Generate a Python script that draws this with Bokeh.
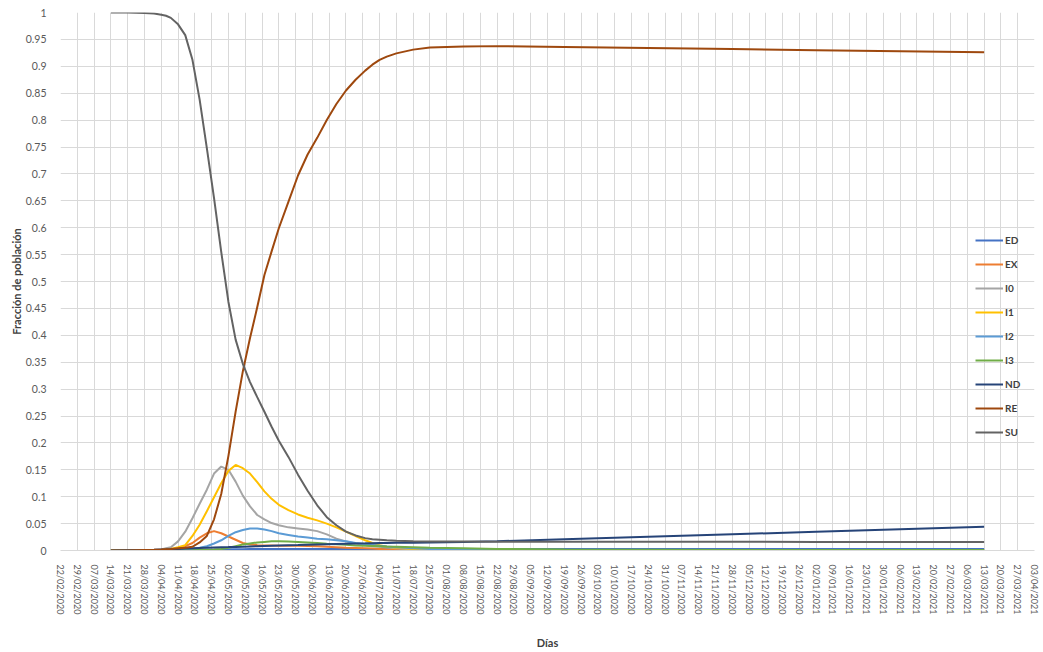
import math
import pandas as pd
from bokeh.plotting import figure
from bokeh.models import (FixedTicker, DatetimeTickFormatter, CustomJSTickFormatter,
                          Legend, LegendItem, Range1d)
from bokeh.embed import file_html
from bokeh.resources import INLINE

# ---------------- data ----------------
dates = ["2020-03-14", "2020-03-21", "2020-03-28", "2020-04-01", "2020-04-04", "2020-04-06",
         "2020-04-08", "2020-04-11", "2020-04-14", "2020-04-17", "2020-04-20", "2020-04-23",
         "2020-04-26", "2020-04-29", "2020-05-02", "2020-05-05", "2020-05-08", "2020-05-11",
         "2020-05-14", "2020-05-17", "2020-05-20", "2020-05-23", "2020-05-27", "2020-05-31",
         "2020-06-04", "2020-06-08", "2020-06-12", "2020-06-16", "2020-06-20", "2020-06-24",
         "2020-06-28", "2020-07-01", "2020-07-04", "2020-07-07", "2020-07-11", "2020-07-18",
         "2020-07-25", "2020-08-01", "2020-08-08", "2020-08-22", "2020-09-19", "2020-10-24",
         "2020-11-28", "2021-01-02", "2021-02-06", "2021-03-13"]

ED = [0.0, 0.0, 0.0, 0.0, 0.0, 0.0, 0.0, 0.0002, 0.0004, 0.0006, 0.001, 0.0013, 0.0016, 0.002,
      0.0022, 0.0024, 0.0025, 0.0026, 0.0027, 0.0028, 0.0028, 0.0029, 0.003, 0.003, 0.003,
      0.003, 0.003, 0.003, 0.003, 0.003, 0.003, 0.003, 0.003, 0.003, 0.003, 0.003, 0.003, 0.003,
      0.003, 0.003, 0.003, 0.003, 0.003, 0.003, 0.003, 0.003]
EX = [0.0, 0.0, 0.0, 0.0005, 0.001, 0.0015, 0.002, 0.004, 0.008, 0.014, 0.024, 0.032, 0.036,
      0.032, 0.026, 0.020, 0.014, 0.011, 0.010, 0.0095, 0.0095, 0.009, 0.009, 0.0088, 0.0085,
      0.008, 0.007, 0.006, 0.005, 0.0045, 0.004, 0.0035, 0.003, 0.0025, 0.002, 0.0015, 0.001,
      0.0008, 0.0005, 0.0003, 0.0002, 0.0001, 0.0, 0.0, 0.0, 0.0]
I0 = [0.0, 0.0, 0.0, 0.001, 0.002, 0.004, 0.006, 0.017, 0.035, 0.060, 0.087, 0.113, 0.143,
      0.156, 0.150, 0.128, 0.102, 0.082, 0.066, 0.058, 0.051, 0.047, 0.043, 0.041, 0.039, 0.036,
      0.030, 0.022, 0.017, 0.013, 0.010, 0.008, 0.007, 0.0055, 0.004, 0.002, 0.001, 0.0007,
      0.0005, 0.0003, 0.0002, 0.0001, 0.0001, 0.0, 0.0, 0.0]
I1 = [0.0, 0.0, 0.0, 0.0005, 0.001, 0.002, 0.003, 0.006, 0.010, 0.027, 0.048, 0.073, 0.099,
      0.125, 0.148, 0.159, 0.153, 0.143, 0.127, 0.110, 0.096, 0.085, 0.075, 0.067, 0.061, 0.056,
      0.050, 0.043, 0.035, 0.027, 0.019, 0.014, 0.010, 0.007, 0.005, 0.003, 0.002, 0.0015,
      0.001, 0.0005, 0.0002, 0.0001, 0.0, 0.0, 0.0, 0.0]
I2 = [0.0, 0.0, 0.0, 0.0, 0.0, 0.0005, 0.001, 0.001, 0.002, 0.003, 0.005, 0.008, 0.013, 0.019,
      0.027, 0.034, 0.038, 0.041, 0.041, 0.039, 0.036, 0.032, 0.029, 0.026, 0.024, 0.022, 0.021,
      0.019, 0.017, 0.014, 0.012, 0.010, 0.009, 0.0075, 0.006, 0.004, 0.003, 0.0025, 0.002,
      0.001, 0.001, 0.0005, 0.0003, 0.0002, 0.0001, 0.0001]
I3 = [0.0, 0.0, 0.0, 0.0, 0.0, 0.0, 0.0, 0.0, 0.0002, 0.0005, 0.001, 0.0015, 0.002, 0.003,
      0.005, 0.008, 0.011, 0.013, 0.015, 0.016, 0.017, 0.017, 0.0167, 0.016, 0.015, 0.0138,
      0.0125, 0.0115, 0.0105, 0.0095, 0.009, 0.0085, 0.008, 0.0075, 0.007, 0.006, 0.005, 0.0045,
      0.004, 0.003, 0.002, 0.0015, 0.001, 0.001, 0.001, 0.001]
ND = [0.0, 0.0005, 0.001, 0.0015, 0.002, 0.0022, 0.0025, 0.003, 0.0035, 0.004, 0.0045, 0.005,
      0.0055, 0.006, 0.0063, 0.0067, 0.007, 0.0075, 0.008, 0.0085, 0.009, 0.0093, 0.0097, 0.010,
      0.0105, 0.011, 0.0115, 0.012, 0.0125, 0.013, 0.0133, 0.0136, 0.0138, 0.014, 0.0142,
      0.0145, 0.0148, 0.0153, 0.0158, 0.0172, 0.0209, 0.0255, 0.0301, 0.0348, 0.0394, 0.044]
RE = [0.0, 0.0, 0.001, 0.0015, 0.002, 0.0025, 0.003, 0.004, 0.005, 0.007, 0.015, 0.027, 0.058,
      0.105, 0.176, 0.258, 0.333, 0.395, 0.452, 0.512, 0.556, 0.599, 0.648, 0.697, 0.736, 0.767,
      0.800, 0.830, 0.855, 0.875, 0.892, 0.903, 0.912, 0.918, 0.924, 0.931, 0.935, 0.936, 0.937,
      0.9375, 0.936, 0.934, 0.932, 0.930, 0.928, 0.926]
SU = [1.0, 1.0, 0.999, 0.998, 0.996, 0.994, 0.990, 0.978, 0.958, 0.912, 0.838, 0.748, 0.655,
      0.555, 0.462, 0.392, 0.347, 0.313, 0.285, 0.258, 0.230, 0.204, 0.174, 0.141, 0.111, 0.084,
      0.062, 0.047, 0.035, 0.028, 0.023, 0.021, 0.020, 0.019, 0.018, 0.017, 0.0168, 0.0166,
      0.0165, 0.0164, 0.0163, 0.0162, 0.0161, 0.016, 0.016, 0.016]

series_names = ["ED", "EX", "I0", "I1", "I2", "I3", "ND", "RE", "SU"]
series_values = [ED, EX, I0, I1, I2, I3, ND, RE, SU]
series_colors = ["#4472C4", "#ED7D31", "#A5A5A5", "#FFC000", "#5B9BD5", "#70AD47",
                 "#264478", "#9E480E", "#636363"]

x_start = "2020-02-22"
x_end = "2021-04-03"
y_ticks = [i / 20 for i in range(21)]

# ---------------- figure ----------------
x = pd.to_datetime(dates, format="%Y-%m-%d")
t0 = pd.Timestamp(x_start)
t1 = pd.Timestamp(x_end)
week_ticks = pd.date_range(t0, t1, freq="7D")
tick_ms = [int(t.value // 10**6) for t in week_ticks]

p = figure(width=1043, height=652, x_axis_type="datetime",
           x_range=Range1d(t0, t1), y_range=Range1d(0, 1),
           output_backend="svg", toolbar_location=None,
           min_border_left=60, min_border_right=9, min_border_top=12, min_border_bottom=102)
p.outline_line_color = None
p.background_fill_color = "white"

FONT = "Lato"
GRID = "#D9D9D9"
TXT = "#595959"

p.xgrid.grid_line_color = GRID
p.ygrid.grid_line_color = GRID

xa = p.xaxis[0]
xa.ticker = FixedTicker(ticks=tick_ms)
fmt = "%d/%m/%Y"
xa.formatter = DatetimeTickFormatter(microseconds=fmt, milliseconds=fmt, seconds=fmt,
                                     minsec=fmt, minutes=fmt, hourmin=fmt, hours=fmt,
                                     days=fmt, months=fmt, years=fmt)
xa.major_label_orientation = -math.pi / 2
xa.major_label_text_font = FONT
xa.major_label_text_font_size = "9px"
xa.major_label_text_color = TXT
xa.major_label_standoff = 8
xa.major_tick_line_color = None
xa.minor_tick_line_color = None
xa.axis_line_color = GRID
xa.axis_label = "Días"
xa.axis_label_text_font = FONT
xa.axis_label_text_font_size = "11px"
xa.axis_label_text_font_style = "bold"
xa.axis_label_text_color = "#404040"
xa.axis_label_standoff = 19

ya = p.yaxis[0]
ya.ticker = FixedTicker(ticks=y_ticks)
ya.formatter = CustomJSTickFormatter(code="return Number(tick.toFixed(2)).toString();")
ya.major_label_text_font = FONT
ya.major_label_text_font_size = "10.5px"
ya.major_label_text_color = TXT
ya.major_label_standoff = 8
ya.major_tick_line_color = None
ya.minor_tick_line_color = None
ya.axis_line_color = None
ya.axis_label = "Fracción de población"
ya.axis_label_text_font = FONT
ya.axis_label_text_font_size = "11px"
ya.axis_label_text_font_style = "bold"
ya.axis_label_text_color = "#404040"
ya.axis_label_standoff = 0

items = []
for name, vals, col in zip(series_names, series_values, series_colors):
    r = p.line(x, vals, line_color=col, line_width=2)
    items.append(LegendItem(label=name, renderers=[r]))

legend = Legend(items=items, location=(915, 111), orientation="vertical",
                background_fill_alpha=0, border_line_alpha=0, padding=0, margin=0,
                glyph_width=28, glyph_height=14, label_height=14, spacing=10,
                label_standoff=2, label_text_font=FONT, label_text_font_size="10px",
                label_text_font_style="bold", label_text_color="#404040")
p.add_layout(legend)

open("out.html", "w").write(file_html(p, INLINE))
